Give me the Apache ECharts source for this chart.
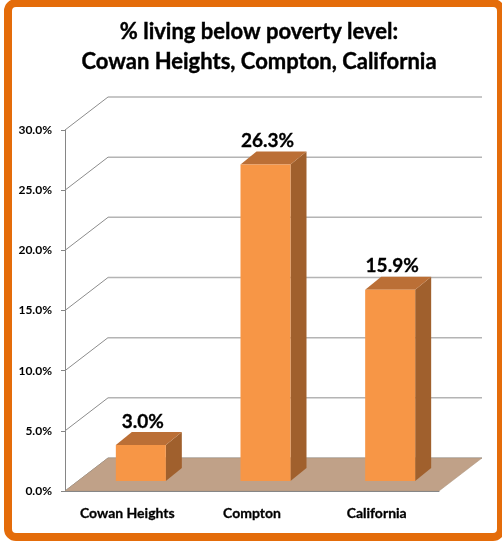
<!DOCTYPE html>
<html>
<head>
<meta charset="utf-8">
<script src="https://cdn.jsdelivr.net/npm/echarts@6/dist/echarts.min.js"></script>
<style>
  html, body { margin: 0; padding: 0; background: #fff; }
  #chart { width: 502px; height: 541px; }
</style>
</head>
<body>
<div id="chart"></div>
<script>
const categories = ['Cowan Heights', 'Compton', 'California'];
const values = [3.0, 26.3, 15.9];
const yTicks = [0, 5, 10, 15, 20, 25, 30];

// depth of the floor / back wall, and of each bar
const wallDX = 43, wallDY = -33;
const barShiftX = 13.5, barShiftY = -10;
const barW = 50, barDX = 16, barDY = -13;

const myChart = echarts.init(document.getElementById('chart'));

const option = {
    animation: false,
    title: {
        text: '% living below poverty level:\nCowan Heights, Compton, California',
        left: 254,
        top: 12,
        textAlign: 'center',
        textStyle: {
            fontFamily: 'Lato',
            fontWeight: 'bold',
            fontSize: 22,
            lineHeight: 30,
            color: '#000',
            textBorderColor: '#000',
            textBorderWidth: 0.4
        }
    },
    graphic: [
        {
            type: 'rect',
            shape: { x: 8, y: 3, width: 493, height: 534, r: 8 },
            style: { fill: 'none', stroke: '#E46C0A', lineWidth: 8 },
            z: 100
        }
    ],
    grid: { left: 65, right: 63, top: 130, bottom: 50 },
    xAxis: {
        type: 'category',
        data: categories,
        z: 5,
        axisLine: { lineStyle: { color: '#868686', width: 1 } },
        axisTick: { length: 5, lineStyle: { color: '#868686' } },
        axisLabel: {
            fontFamily: 'Lato',
            fontWeight: 'bold',
            fontSize: 14,
            color: '#000',
            margin: 15,
            textBorderColor: '#000',
            textBorderWidth: 0.3
        }
    },
    yAxis: {
        type: 'value',
        min: 0,
        max: 30,
        interval: 5,
        axisLine: { show: true, lineStyle: { color: '#868686', width: 1 } },
        axisTick: { show: true, length: 4, lineStyle: { color: '#868686' } },
        splitLine: { show: false },
        axisLabel: {
            fontFamily: 'Lato',
            fontWeight: 'bold',
            fontSize: 12,
            color: '#000',
            margin: 13,
            formatter: v => v.toFixed(1) + '%'
        }
    },
    series: [
        {
            // back wall gridlines and the left-wall diagonals
            type: 'custom',
            z: 1,
            data: yTicks.map(v => [0, v]),
            renderItem: function (params, api) {
                const cs = params.coordSys;
                const y = api.coord([0, api.value(1)])[1];
                const left = cs.x, right = cs.x + cs.width;
                return {
                    type: 'group',
                    children: [
                        {
                            type: 'line',
                            shape: { x1: left, y1: y, x2: left + wallDX, y2: y + wallDY },
                            style: { stroke: '#8C8C8C', lineWidth: 1 }
                        },
                        {
                            type: 'line',
                            shape: { x1: left + wallDX, y1: y + wallDY, x2: right + wallDX, y2: y + wallDY },
                            style: { stroke: '#B4B4B4', lineWidth: 1.5 }
                        }
                    ]
                };
            }
        },
        {
            // floor
            type: 'custom',
            z: 2,
            data: [[0, 0]],
            renderItem: function (params, api) {
                const cs = params.coordSys;
                const y = api.coord([0, 0])[1];
                const left = cs.x, right = cs.x + cs.width;
                return {
                    type: 'polygon',
                    shape: {
                        points: [
                            [left, y], [right, y],
                            [right + wallDX, y + wallDY], [left + wallDX, y + wallDY]
                        ]
                    },
                    style: { fill: '#C0A188', stroke: '#A89078', lineWidth: 0.5 }
                };
            }
        },
        {
            // 3D bars
            type: 'custom',
            z: 3,
            data: values.map((v, i) => [i, v]),
            renderItem: function (params, api) {
                const i = api.value(0), v = api.value(1);
                const base = api.coord([i, 0]);
                const top = api.coord([i, v]);
                const cx = base[0] + barShiftX;
                const x0 = cx - barW / 2, x1 = cx + barW / 2;
                const yb = base[1] + barShiftY, yt = top[1] + barShiftY;
                return {
                    type: 'group',
                    children: [
                        {
                            type: 'polygon',
                            shape: { points: [[x1, yt], [x1 + barDX, yt + barDY], [x1 + barDX, yb + barDY], [x1, yb]] },
                            style: { fill: '#A0602D' }
                        },
                        {
                            type: 'polygon',
                            shape: { points: [[x0, yt], [x1, yt], [x1 + barDX, yt + barDY], [x0 + barDX, yt + barDY]] },
                            style: { fill: '#BB6F36' }
                        },
                        {
                            type: 'rect',
                            shape: { x: x0, y: yt, width: barW, height: yb - yt },
                            style: { fill: '#F79646' }
                        },
                        {
                            type: 'text',
                            style: {
                                x: cx + 2,
                                y: yt + barDY - 1,
                                text: v.toFixed(1) + '%',
                                align: 'center',
                                verticalAlign: 'bottom',
                                fontFamily: 'Lato',
                                fontWeight: 'bold',
                                fontSize: 19,
                                fill: '#000',
                                stroke: '#000',
                                lineWidth: 0.3
                            }
                        }
                    ]
                };
            }
        }
    ]
};

myChart.setOption(option);

window.addEventListener('resize', () => myChart.resize());
</script>
</body>
</html>
